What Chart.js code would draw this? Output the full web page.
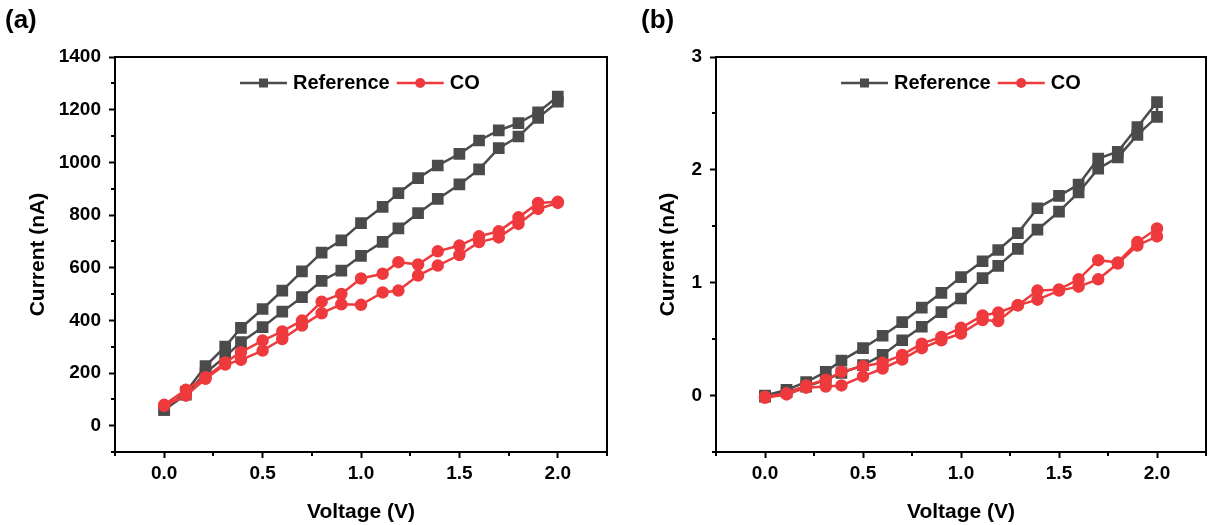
<!DOCTYPE html>
<html>
<head>
<meta charset="utf-8">
<script src="https://cdn.jsdelivr.net/npm/chart.js@4"></script>
<style>
  html, body { margin: 0; padding: 0; background: #fff; }
  #wrap { position: relative; width: 1208px; height: 525px; overflow: hidden; }
  .panel { position: absolute; top: 0; height: 525px; }
  #pa { left: 0; width: 616px; }
  #pb { left: 610px; width: 605px; }
</style>
</head>
<body>
<div id="wrap">
  <div class="panel" id="pa"><canvas id="chartA"></canvas></div>
  <div class="panel" id="pb"><canvas id="chartB"></canvas></div>
</div>
<script>
// sweep voltages (forward 0 -> 2 V, then back)
const voltage = [0, 0.11, 0.21, 0.31, 0.39, 0.5, 0.6, 0.7, 0.8, 0.9, 1.0, 1.11, 1.19, 1.29, 1.39, 1.5, 1.6, 1.7, 1.8, 1.9, 2.0];

// panel (a), current in nA
const refA_fwd = [60, 118, 200, 262, 317, 374, 433, 488, 550, 589, 645, 698, 749, 807, 861, 916, 973, 1054, 1098, 1169, 1230];
const refA_back = [60, 128, 226, 300, 371, 443, 513, 586, 657, 704, 769, 831, 883, 940, 988, 1032, 1083, 1121, 1149, 1190, 1250];
const coA_fwd = [75, 114, 178, 232, 250, 285, 329, 380, 427, 461, 459, 506, 513, 570, 608, 648, 697, 715, 766, 823, 846];
const coA_back = [79, 136, 184, 240, 279, 323, 358, 399, 471, 500, 559, 577, 621, 612, 662, 684, 719, 738, 791, 846, 850];

// panel (b), current in nA
const refB_fwd = [-0.01, 0.03, 0.08, 0.14, 0.20, 0.27, 0.36, 0.49, 0.61, 0.74, 0.86, 1.04, 1.15, 1.30, 1.47, 1.63, 1.80, 2.01, 2.11, 2.31, 2.47];
const refB_back = [0, 0.05, 0.12, 0.21, 0.31, 0.42, 0.53, 0.65, 0.78, 0.91, 1.05, 1.19, 1.29, 1.44, 1.66, 1.77, 1.87, 2.10, 2.16, 2.38, 2.60];
const coB_fwd = [-0.02, 0.01, 0.07, 0.08, 0.09, 0.17, 0.24, 0.32, 0.42, 0.49, 0.55, 0.67, 0.66, 0.80, 0.85, 0.93, 0.965, 1.03, 1.17, 1.33, 1.41];
const coB_back = [-0.01, 0.02, 0.09, 0.14, 0.21, 0.26, 0.29, 0.36, 0.46, 0.52, 0.60, 0.71, 0.735, 0.80, 0.93, 0.94, 1.03, 1.20, 1.18, 1.36, 1.48];

// axis ticks
const xTicks = [0, 0.5, 1.0, 1.5, 2.0];
const xMinor = [-0.25, 0.25, 0.75, 1.25, 1.75, 2.25];
const yTicksA = [0, 200, 400, 600, 800, 1000, 1200, 1400];
const yMinorA = [-100, 100, 300, 500, 700, 900, 1100, 1300];
const yTicksB = [0, 1, 2, 3];
const yMinorB = [-0.5, 0.5, 1.5, 2.5];

const GRAY = '#4b4b4b';
const RED = '#ef3a3d';
const FONT = '"Liberation Sans", Arial, sans-serif';

// one loop: forward branch then the return branch
function loop(fwd, back) {
  const pts = voltage.map((v, i) => ({ x: v, y: fwd[i] }));
  for (let i = voltage.length - 1; i >= 0; i--) pts.push({ x: voltage[i], y: back[i] });
  return pts;
}

const framePlugin = {
  id: 'frame',
  afterDraw(chart, args, opts) {
    const c = chart.ctx;
    const a = chart.chartArea;
    const xs = chart.scales.x, ys = chart.scales.y;
    c.save();
    c.strokeStyle = '#000';
    c.lineWidth = 2;
    c.strokeRect(a.left, a.top, a.right - a.left, a.bottom - a.top);
    // minor ticks
    c.beginPath();
    opts.minorX.forEach(v => {
      const px = Math.round(xs.getPixelForValue(v));
      c.moveTo(px, a.bottom); c.lineTo(px, a.bottom + 4);
    });
    opts.minorY.forEach(v => {
      const py = Math.round(ys.getPixelForValue(v));
      c.moveTo(a.left, py); c.lineTo(a.left - 4, py);
    });
    c.stroke();

    // legend
    c.font = 'bold 20px ' + FONT;
    c.textBaseline = 'middle';
    c.fillStyle = '#000';
    const ly = a.top + 26;
    let lx = a.left + 125;
    chart.data.datasets.slice().sort((p, q) => p.legendIndex - q.legendIndex).forEach(ds => {
      c.strokeStyle = ds.borderColor;
      c.lineWidth = 2.5;
      c.beginPath(); c.moveTo(lx, ly); c.lineTo(lx + 47, ly); c.stroke();
      c.fillStyle = ds.borderColor;
      if (ds.pointStyle === 'rect') {
        c.fillRect(lx + 23.5 - 4.5, ly - 4.5, 9, 9);
      } else {
        c.beginPath(); c.arc(lx + 23.5, ly, 5, 0, Math.PI * 2); c.fill();
      }
      c.fillStyle = '#000';
      c.fillText(ds.label, lx + 53, ly);
      lx += 53 + c.measureText(ds.label).width + 7;
    });

    // panel letter
    c.font = 'bold 26px ' + FONT;
    c.textBaseline = 'middle';
    c.fillText(opts.letter, opts.letterX, 21);
    c.restore();
  }
};

function makeChart(id, ref, co, yMin, yMax, yTicks, yMinor, yWidth, padLeft, padRight, letter, letterX, titlePad) {
  return new Chart(document.getElementById(id), {
    type: 'line',
    data: {
      datasets: [
        {
          label: 'CO', data: co, legendIndex: 1,
          borderColor: RED, backgroundColor: RED,
          pointStyle: 'circle', pointRadius: 5, borderWidth: 2.5, tension: 0
        },
        {
          label: 'Reference', data: ref, legendIndex: 0,
          borderColor: GRAY, backgroundColor: GRAY,
          pointStyle: 'rect', pointRadius: 6.5, borderWidth: 2.5, tension: 0
        }
      ]
    },
    options: {
      responsive: true,
      maintainAspectRatio: false,
      animation: false,
      layout: { padding: { top: 57, right: padRight, left: padLeft, bottom: 0 } },
      plugins: {
        legend: { display: false },
        tooltip: { enabled: false },
        frame: { letter: letter, letterX: letterX, minorX: xMinor, minorY: yMinor }
      },
      scales: {
        x: {
          type: 'linear', min: -0.25, max: 2.25,
          afterBuildTicks: s => { s.ticks = xTicks.map(v => ({ value: v })); },
          afterFit: s => { s.height = 73; },
          grid: { drawOnChartArea: false, tickLength: 6, tickWidth: 2, tickColor: '#000' },
          border: { display: true, color: '#000', width: 2 },
          ticks: {
            color: '#000', padding: 4, maxRotation: 0,
            font: { family: FONT, size: 19, weight: 'bold' },
            callback: v => Number(v).toFixed(1)
          },
          title: {
            display: true, text: 'Voltage (V)', color: '#000',
            font: { family: FONT, size: 21, weight: 'bold' },
            padding: { top: 9, bottom: 0 }
          }
        },
        y: {
          type: 'linear', min: yMin, max: yMax,
          afterBuildTicks: s => { s.ticks = yTicks.map(v => ({ value: v })); },
          afterFit: s => { s.width = yWidth; },
          grid: { drawOnChartArea: false, tickLength: 6, tickWidth: 2, tickColor: '#000' },
          border: { display: true, color: '#000', width: 2 },
          ticks: {
            color: '#000', padding: 8,
            font: { family: FONT, size: 19, weight: 'bold' },
            callback: v => String(v)
          },
          title: {
            display: true, text: 'Current (nA)', color: '#000',
            font: { family: FONT, size: 21, weight: 'bold' },
            padding: { top: titlePad, bottom: 0 }
          }
        }
      }
    },
    plugins: [framePlugin]
  });
}

makeChart('chartA', loop(refA_fwd, refA_back), loop(coA_fwd, coA_back),
  -100, 1400, yTicksA, yMinorA, 115, 0, 4, '(a)', 5, 26);
makeChart('chartB', loop(refB_fwd, refB_back), loop(coB_fwd, coB_back),
  -0.5, 3, yTicksB, yMinorB, 106, 0, 2, '(b)', 31, 46);
</script>
</body>
</html>
